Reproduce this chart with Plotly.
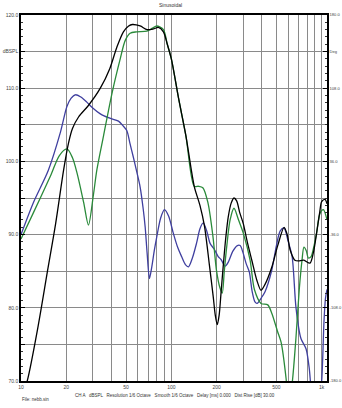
import plotly.graph_objects as go
import math

# ---------------- data ----------------
black_f = [10, 11, 13, 15, 17, 19.2, 20.7, 22, 24.2, 28, 33.7, 39, 43.4, 48, 52, 55, 62, 69, 76, 82, 88.6, 94, 100, 112, 125, 142, 155, 166, 179, 190, 196, 202, 208, 214, 222, 230, 239, 250, 261, 272, 285, 301, 320, 343, 370, 395, 420, 465, 510, 562, 590, 617, 664, 700, 760, 836, 880, 925, 970, 1000, 1052, 1085]
black_db = [67.5, 70, 77.5, 85, 91.5, 98.8, 102.5, 104.5, 106.1, 107.6, 110, 112.7, 115.6, 117.7, 118.5, 118.7, 118.5, 118.0, 118.1, 118.3, 117.7, 116, 114, 108.5, 103.5, 96.6, 94, 91.2, 85.9, 81.5, 79, 77.7, 79, 82, 86, 89.5, 92.4, 94.3, 95.0, 94.6, 93, 91.5, 89, 86.5, 83.8, 82.4, 83.2, 85.5, 88.5, 91.0, 90, 87.9, 86.5, 86.4, 86.5, 86.1, 87.5, 90.2, 93, 94.5, 94.8, 94.2]

green_f = [10, 12.1, 15.7, 18, 20.2, 22, 23.6, 26.1, 28.1, 30.3, 32, 35.4, 40.3, 45.7, 49.3, 53.2, 58.8, 68.8, 75, 80, 88.6, 94, 100, 112, 125, 142, 152, 162, 175, 189, 200, 210, 218, 225, 234, 246, 261, 280, 301, 334, 357, 395, 438, 465, 510, 537, 580, 605, 641, 674, 710, 740, 762, 790, 815, 850, 890, 925, 975, 1026, 1085]
green_db = [89.4, 93, 98, 100.8, 101.7, 100.5, 98.4, 94.4, 91.3, 95.4, 98.9, 103.5, 109.3, 114, 116.5, 117.5, 117.7, 117.8, 118.2, 118.5, 118.0, 116, 114, 108.5, 103.5, 96.6, 96.6, 96.4, 94.4, 89.8, 85, 82.8, 82.0, 85, 88.5, 92, 93.6, 92, 90.2, 86.5, 82.5, 80.6, 80.4, 79.3, 76.7, 75.3, 70.3, 66, 70.3, 75.8, 82.6, 86.5, 88.3, 87.8, 86.8, 87.0, 88.5, 90.2, 92.9, 93.4, 92.0]

blue_f = [10, 12.1, 15.2, 18.3, 20.2, 21.5, 23, 25, 27.4, 30, 33.7, 39, 44.5, 48, 50.6, 53, 56, 59, 62, 65, 67, 69, 71.5, 74, 77, 80, 85, 90, 96, 103, 110, 117, 124, 130, 138, 147, 155, 163, 172, 181, 193, 205, 214, 228, 240, 256, 275, 287, 300, 315, 330, 345, 360, 372, 395, 420, 465, 500, 530, 562, 600, 636, 675, 728, 787, 827, 850, 900, 960, 1000, 1036, 1060, 1085]
blue_db = [90, 94.4, 98.8, 104, 107.5, 108.6, 109.1, 108.8, 108.1, 107.3, 106.5, 105.9, 105.5, 104.8, 104.2, 102.5, 100.5, 98.5, 96.5, 93.5, 91, 87.5, 84, 85.5, 87.8, 89.7, 92.3, 93.4, 92.5, 90.2, 88.3, 87.0, 85.9, 85.6, 86.8, 88.8, 90.8, 91.6, 90.5, 88.8, 88.0, 87.0, 86.6, 85.7, 86.3, 87.7, 88.5, 88.5, 87.5, 86, 84.9, 82.2, 80.8, 80.6, 81.3, 82.2, 85.1, 88.5, 90.5, 90.9, 89.0, 87.0, 80, 75.8, 74.4, 71.7, 69, 66, 67, 70, 78.1, 81.3, 82.5]

x_grid = [10, 20, 30, 40, 50, 60, 70, 80, 90, 100, 200, 300, 400, 500, 600, 700, 800, 900, 1000]
x_labels = {10: "10", 20: "20", 50: "50", 100: "100", 200: "200", 500: "500", 1000: "1k"}
y_left_vals = [70, 75, 80, 85, 90, 95, 100, 105, 110, 115, 120]
y_left_text = ["70.0", "", "80.0", "", "90.0", "", "100.0", "", "110.0", "dBSPL", "120.0"]
y_right_vals = [-180, -108, -36, 36, 108, 144, 180]
y_right_text = ["-180.0", "-108.0", "-36.0", "36.0", "108.0", "Deg", "180.0"]

title_text = "Sinusoidal"
footer_text = "CH A   dBSPL   Resolution 1/6 Octave   Smooth 1/6 Octave   Delay [ms] 0.000   Dist Rise [dB] 30.00"
file_text = "File: nebb.sin"

# ---------------- figure ----------------
FONT = "Liberation Sans, Arial, sans-serif"
fig = go.Figure()
fig.add_trace(go.Scatter(x=blue_f, y=blue_db, mode="lines", line=dict(color="#3f3f9f", width=1.3, shape="spline", smoothing=0.8), hoverinfo="skip"))
fig.add_trace(go.Scatter(x=green_f, y=green_db, mode="lines", line=dict(color="#2a8a3a", width=1.3, shape="spline", smoothing=0.8), hoverinfo="skip"))
fig.add_trace(go.Scatter(x=black_f, y=black_db, mode="lines", line=dict(color="#000000", width=1.3, shape="spline", smoothing=0.8), hoverinfo="skip"))
fig.add_trace(go.Scatter(x=[], y=[], yaxis="y2", mode="lines", hoverinfo="skip"))

fig.update_layout(
    template="none",
    width=342, height=408,
    margin=dict(l=21, r=15, t=15, b=27, autoexpand=False),
    paper_bgcolor="white", plot_bgcolor="white",
    showlegend=False,
    font=dict(family=FONT, size=5, color="#444"),
    xaxis=dict(
        type="log", range=[1, math.log10(1085)], automargin=False,
        tickmode="array", tickvals=x_grid,
        ticktext=[x_labels.get(v, "") for v in x_grid],
        showgrid=True, gridcolor="#8a8a8a", gridwidth=1,
        showline=True, linecolor="#000", linewidth=2, mirror=True,
        ticks="", tickfont=dict(size=5, color="#444"), zeroline=False,
    ),
    yaxis=dict(
        range=[70, 120], automargin=False, tickmode="array", tickvals=y_left_vals, ticktext=y_left_text,
        showgrid=True, gridcolor="#8a8a8a", gridwidth=1,
        showline=True, linecolor="#000", linewidth=1.5,
        ticks="inside", ticklen=4, tickcolor="#000", tickwidth=0.8,
        minor=dict(dtick=1, tick0=70, ticks="inside", ticklen=2, tickcolor="#333", tickwidth=0.6, showgrid=False),
        tickfont=dict(size=5, color="#444"), zeroline=False,
    ),
    yaxis2=dict(
        overlaying="y", side="right", range=[-180, 180], automargin=False,
        tickmode="array", tickvals=y_right_vals, ticktext=y_right_text,
        showgrid=False, showline=True, linecolor="#000", linewidth=1.5,
        ticks="inside", ticklen=4, tickcolor="#000", tickwidth=0.8,
        minor=dict(dtick=7.2, tick0=-180, ticks="inside", ticklen=2, tickcolor="#333", tickwidth=0.6, showgrid=False),
        tickfont=dict(size=4.1, color="#444"), zeroline=False, ticklabelstandoff=0,
    ),
    annotations=[
        dict(text=title_text, xref="paper", yref="paper", x=0.487, y=1.027, showarrow=False,
             font=dict(size=5, color="#333"), xanchor="center", yanchor="middle"),
        dict(text=footer_text, xref="paper", yref="paper", x=0.502, y=-0.039, showarrow=False,
             font=dict(size=4.5, color="#333"), xanchor="center", yanchor="middle"),
        dict(text=file_text, xref="paper", yref="paper", x=-0.003, y=-0.051, showarrow=False,
             font=dict(size=4.5, color="#333"), xanchor="left", yanchor="middle"),
    ],
)

fig.write_html("out.html")
